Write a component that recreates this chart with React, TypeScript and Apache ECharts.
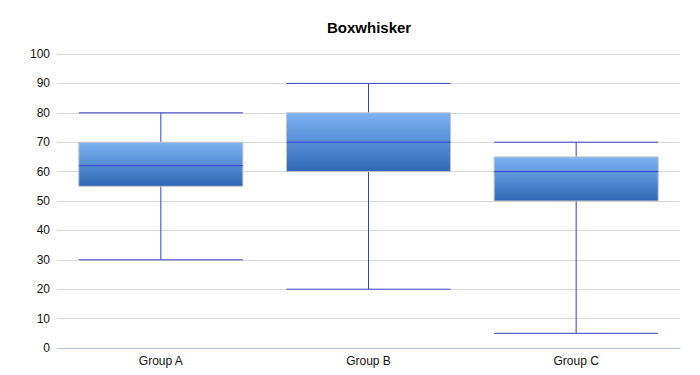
import React, { useEffect, useRef } from "react";
import * as echarts from "echarts";

const categories = ["Group A", "Group B", "Group C"];
const minValues = [30, 20, 5];
const q1Values = [55, 60, 50];
const medianValues = [62, 70, 60];
const q3Values = [70, 80, 65];
const maxValues = [80, 90, 70];

export default function App() {
  const ref = useRef<HTMLDivElement>(null);
  useEffect(() => {
    document.body.style.margin = "0";
    const chart = echarts.init(ref.current!, null, { renderer: "svg" });
    const data = categories.map((_, i) => [
      i,
      minValues[i],
      q1Values[i],
      medianValues[i],
      q3Values[i],
      maxValues[i],
    ]);
    const lineColor = "#3440c8";
    chart.setOption({
      animation: false,
      title: {
        text: "Boxwhisker",
        left: 327,
        top: 20,
        padding: 0,
        textStyle: { fontFamily: "Liberation Sans, Arial", fontSize: 15, fontWeight: "bold", color: "#000" },
      },
      grid: { left: 57, right: 20, top: 54, bottom: 27 },
      xAxis: {
        type: "category",
        data: categories,
        axisLine: { lineStyle: { color: "#b4c6dc" } },
        axisTick: { alignWithLabel: true, length: 4, lineStyle: { color: "#b4c6dc" } },
        axisLabel: { color: "#111", fontFamily: "Liberation Sans, Arial", fontSize: 12, margin: 7 },
      },
      yAxis: {
        type: "value",
        min: 0,
        max: 100,
        interval: 10,
        axisLine: { show: false },
        axisTick: { show: false },
        axisLabel: { color: "#111", fontFamily: "Liberation Sans, Arial", fontSize: 12, margin: 7 },
        splitLine: { lineStyle: { color: "#d8d8d8" } },
      },
      series: [
        {
          type: "custom",
          data,
          encode: { x: 0, y: [1, 2, 3, 4, 5] },
          renderItem: (params: any, api: any) => {
            const x = api.value(0);
            const pMin = api.coord([x, api.value(1)]);
            const pQ1 = api.coord([x, api.value(2)]);
            const pMed = api.coord([x, api.value(3)]);
            const pQ3 = api.coord([x, api.value(4)]);
            const pMax = api.coord([x, api.value(5)]);
            const halfW = api.size([1, 0])[0] * 0.395;
            const cx = pMed[0];
            const ls = { stroke: lineColor, lineWidth: 1 };
            return {
              type: "group",
              children: [
                { type: "line", shape: { x1: cx, y1: pMax[1], x2: cx, y2: pQ3[1] }, style: ls },
                { type: "line", shape: { x1: cx, y1: pQ1[1], x2: cx, y2: pMin[1] }, style: ls },
                { type: "line", shape: { x1: cx - halfW, y1: pMax[1], x2: cx + halfW, y2: pMax[1] }, style: ls },
                { type: "line", shape: { x1: cx - halfW, y1: pMin[1], x2: cx + halfW, y2: pMin[1] }, style: ls },
                {
                  type: "rect",
                  shape: { x: cx - halfW, y: pQ3[1], width: halfW * 2, height: pQ1[1] - pQ3[1] },
                  style: {
                    fill: new echarts.graphic.LinearGradient(0, 0, 0, 1, [
                      { offset: 0, color: "#7db3f3" },
                      { offset: 1, color: "#2f67b5" },
                    ]),
                    stroke: "#c4c4c4",
                    lineWidth: 1,
                  },
                },
                { type: "line", shape: { x1: cx - halfW, y1: pMed[1], x2: cx + halfW, y2: pMed[1] }, style: ls },
              ],
            };
          },
        },
      ],
    });
    return () => chart.dispose();
  }, []);
  return <div ref={ref} style={{ width: 700, height: 375, position: "absolute", left: 0, top: 0 }} />;
}
